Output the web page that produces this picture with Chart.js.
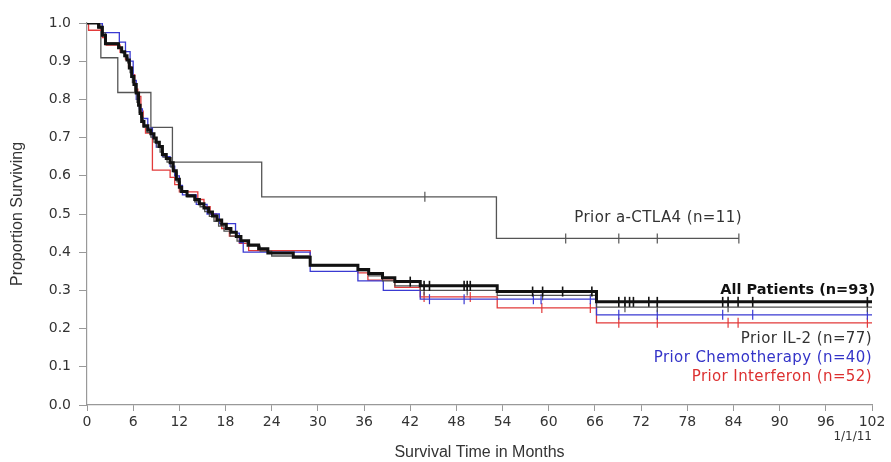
<!DOCTYPE html>
<html>
<head>
<meta charset="utf-8">
<script src="https://cdn.jsdelivr.net/npm/chart.js@4.4.0/dist/chart.umd.min.js"></script>
<style>
  html, body { margin: 0; padding: 0; background: #fff; }
  #wrap { width: 891px; height: 462px; }
</style>
</head>
<body>
<div id="wrap"><canvas id="km" width="891" height="462"></canvas></div>
<script>
// --- DATA (months, proportion surviving) ---
const xTicks = [0, 6, 12, 18, 24, 30, 36, 42, 48, 54, 60, 66, 72, 78, 84, 90, 96, 102];
const yTicks = [0, 0.1, 0.2, 0.3, 0.4, 0.5, 0.6, 0.7, 0.8, 0.9, 1.0];

const allTimes = [0, 1.5, 2.0, 2.4, 4.1, 4.5, 4.9, 5.2, 5.5, 5.8, 6.1, 6.4, 6.7, 6.9, 7.1, 7.4, 7.9, 8.3, 8.7, 9.0, 9.4, 9.8, 10.3, 10.8, 11.2, 11.6, 12.0, 12.3, 13.0, 14.0, 14.6, 15.2, 15.8, 16.3, 16.9, 17.5, 18.1, 18.7, 19.4, 20.0, 21.0, 22.3, 23.5, 26.8, 29.0, 35.2, 36.6, 38.4, 40.0, 43.3, 53.3, 66.2, 102];
const allSurv  = [1.0, 0.989, 0.968, 0.946, 0.935, 0.925, 0.914, 0.903, 0.882, 0.860, 0.839, 0.817, 0.785, 0.763, 0.742, 0.731, 0.720, 0.710, 0.699, 0.688, 0.677, 0.656, 0.645, 0.634, 0.613, 0.591, 0.570, 0.559, 0.548, 0.538, 0.527, 0.516, 0.505, 0.495, 0.484, 0.473, 0.462, 0.452, 0.441, 0.430, 0.419, 0.409, 0.398, 0.387, 0.366, 0.355, 0.344, 0.333, 0.323, 0.312, 0.297, 0.270, 0.270];
const allCens  = [42.0, 43.8, 44.5, 49.0, 49.4, 49.8, 57.9, 59.2, 61.8, 65.6, 69.1, 69.9, 70.5, 71.0, 73.0, 74.1, 82.6, 83.3, 84.6, 86.5, 101.4];

const il2Times = [0, 1.5, 2.0, 2.4, 4.1, 4.6, 5.0, 5.3, 5.6, 5.9, 6.2, 6.5, 6.8, 7.0, 7.3, 7.8, 8.3, 8.7, 9.1, 9.5, 9.9, 10.4, 10.9, 11.3, 11.7, 12.1, 13.0, 14.0, 14.7, 15.3, 15.9, 16.5, 17.1, 17.8, 18.6, 19.5, 20.8, 22.5, 24.0, 29.0, 35.2, 36.6, 38.4, 40.0, 43.3, 53.3, 66.2, 102];
const il2Surv  = [1.0, 0.987, 0.974, 0.948, 0.935, 0.922, 0.909, 0.896, 0.870, 0.844, 0.818, 0.792, 0.766, 0.753, 0.727, 0.714, 0.701, 0.688, 0.675, 0.662, 0.649, 0.636, 0.623, 0.610, 0.584, 0.558, 0.545, 0.532, 0.519, 0.506, 0.494, 0.481, 0.468, 0.455, 0.442, 0.429, 0.416, 0.403, 0.390, 0.364, 0.351, 0.338, 0.325, 0.312, 0.300, 0.287, 0.256, 0.256];
const il2Cens  = [43.8, 49.4, 59.2, 69.9, 74.1, 83.3, 101.4];

const chemoTimes = [0, 2.0, 4.2, 5.0, 5.6, 6.0, 6.4, 6.8, 7.2, 7.9, 8.5, 9.0, 9.8, 10.8, 11.4, 12.0, 12.4, 14.2, 15.6, 17.2, 19.3, 19.8, 20.3, 29.0, 35.2, 38.5, 43.3, 66.2, 102];
const chemoSurv  = [1.0, 0.975, 0.950, 0.925, 0.900, 0.850, 0.800, 0.775, 0.750, 0.725, 0.700, 0.675, 0.650, 0.625, 0.600, 0.575, 0.550, 0.525, 0.500, 0.475, 0.450, 0.425, 0.400, 0.350, 0.325, 0.300, 0.277, 0.236, 0.236];
const chemoCens  = [44.5, 49.0, 58.0, 59.0, 65.4, 69.1, 74.1, 82.6, 86.5, 101.4];

const ifnTimes = [0, 0.2, 2.0, 2.5, 4.3, 5.0, 5.4, 5.8, 6.2, 6.6, 7.0, 7.3, 7.6, 8.5, 10.8, 11.4, 12.0, 14.4, 15.2, 16.0, 16.8, 17.5, 18.5, 19.8, 21.0, 29.0, 35.2, 36.5, 40.0, 43.3, 53.3, 66.2, 102];
const ifnSurv  = [1.0, 0.981, 0.962, 0.942, 0.923, 0.904, 0.885, 0.865, 0.827, 0.808, 0.769, 0.731, 0.712, 0.615, 0.596, 0.577, 0.558, 0.538, 0.519, 0.500, 0.481, 0.462, 0.442, 0.423, 0.404, 0.366, 0.346, 0.327, 0.308, 0.283, 0.254, 0.215, 0.215];
const ifnCens  = [43.8, 49.8, 59.1, 65.4, 69.1, 74.1, 83.3, 84.6, 101.4];

const ctlaTimes = [0, 1.8, 4.0, 8.3, 11.1, 22.7, 53.2, 84.7];
const ctlaSurv  = [1.0, 0.909, 0.818, 0.727, 0.636, 0.545, 0.436, 0.436];
const ctlaCens  = [43.9, 62.2, 69.1, 74.1, 84.7];

const groupNames  = ['All Patients (n=93)', 'Prior IL-2 (n=77)', 'Prior Chemotherapy (n=40)', 'Prior Interferon (n=52)', 'Prior a-CTLA4 (n=11)'];
const groupColors = ['#111111', '#505050', '#3a3ad2', '#e23a3a', '#555555'];

// --- HELPERS ---
const toPts = (ts, ss) => ts.map((t, i) => ({ x: t, y: ss[i] }));
function survAt(ts, ss, t) {
    let v = ss[0];
    for (let i = 0; i < ts.length; i++) { if (ts[i] <= t) v = ss[i]; }
    return v;
}
const censPts = (cs, ts, ss) => cs.map(c => ({ x: c, y: survAt(ts, ss, c) }));

const groups = [
    [allTimes, allSurv, allCens, 3],
    [il2Times, il2Surv, il2Cens, 1.3],
    [chemoTimes, chemoSurv, chemoCens, 1.3],
    [ifnTimes, ifnSurv, ifnCens, 1.3],
    [ctlaTimes, ctlaSurv, ctlaCens, 1.3]
];

const datasets = [];
groups.forEach(([ts, ss, cs, w], i) => {
    datasets.push({
        type: 'line', label: groupNames[i], data: toPts(ts, ss),
        stepped: 'before', borderColor: groupColors[i], borderWidth: w,
        pointRadius: 0, fill: false, order: i
    });
});
groups.forEach(([ts, ss, cs, w], i) => {
    datasets.push({
        type: 'scatter', label: groupNames[i] + ' censored', data: censPts(cs, ts, ss),
        pointStyle: 'line', rotation: 90, pointRadius: 5, pointHoverRadius: 5,
        borderColor: groupColors[i], borderWidth: i === 0 ? 1.6 : 1.2, order: i
    });
});

// curve labels, placed in data units
const notes = [
    { text: 'Prior a-CTLA4 (n=11)', x: 85.1, y: 0.488, color: '#333', bold: false },
    { text: 'All Patients (n=93)', x: 102.4, y: 0.300, color: '#111', bold: true },
    { text: 'Prior IL-2 (n=77)', x: 102, y: 0.172, color: '#333', bold: false },
    { text: 'Prior Chemotherapy (n=40)', x: 102, y: 0.122, color: '#3434c8', bold: false },
    { text: 'Prior Interferon (n=52)', x: 102, y: 0.073, color: '#dc3030', bold: false }
];

const notesPlugin = {
    id: 'notes',
    afterDatasetsDraw(chart) {
        const { ctx, scales: { x, y } } = chart;
        ctx.save();
        ctx.textAlign = 'right';
        ctx.textBaseline = 'middle';
        notes.forEach(n => {
            ctx.font = n.bold ? 'bold 14.5px "DejaVu Sans"' : '15px "DejaVu Sans"';
            ctx.letterSpacing = n.bold ? '0px' : '0.4px';
            ctx.fillStyle = n.color;
            ctx.fillText(n.text, x.getPixelForValue(n.x), y.getPixelForValue(n.y));
        });
        ctx.letterSpacing = '0px';
        ctx.font = '12px "DejaVu Sans"';
        ctx.fillStyle = '#333';
        ctx.fillText('1/1/11', x.right, x.bottom - 25);
        ctx.restore();
    }
};

const tickFont = { family: 'DejaVu Sans', size: 14 };

new Chart(document.getElementById('km'), {
    type: 'line',
    data: { datasets },
    options: {
        responsive: false,
        animation: false,
        devicePixelRatio: 1,
        layout: { padding: { top: 23, right: 19, bottom: 0, left: 0 } },
        plugins: { legend: { display: false }, tooltip: { enabled: false } },
        scales: {
            x: {
                type: 'linear', min: 0, max: 102,
                afterBuildTicks: s => { s.ticks = xTicks.map(v => ({ value: v })); },
                afterFit: s => { s.height = 57; },
                ticks: { color: '#333', font: tickFont, padding: 3, maxRotation: 0, autoSkip: false },
                grid: { drawOnChartArea: false, tickLength: 6, color: '#999' },
                border: { color: '#999', width: 1.2 },
                title: { display: true, text: 'Survival Time in Months', color: '#333', font: { family: 'Liberation Sans', size: 16 }, padding: { top: 0, bottom: 0 } }
            },
            y: {
                type: 'linear', min: 0, max: 1,
                afterBuildTicks: s => { s.ticks = yTicks.map(v => ({ value: v })); },
                afterFit: s => { s.width = 87; },
                ticks: { color: '#333', font: tickFont, padding: 8, callback: v => v.toFixed(1) },
                grid: { drawOnChartArea: false, tickLength: 8, color: '#999' },
                border: { color: '#999', width: 1.2 },
                title: { display: true, text: 'Proportion Surviving', color: '#333', font: { family: 'Liberation Sans', size: 16 }, padding: { top: 8, bottom: 0 } }
            }
        }
    },
    plugins: [notesPlugin]
});
</script>
</body>
</html>
